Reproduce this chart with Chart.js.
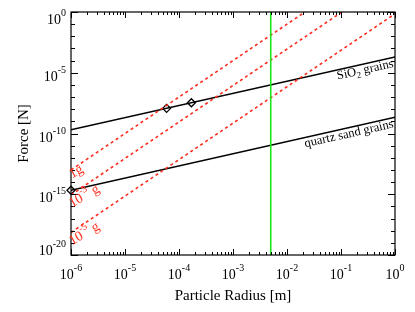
<!DOCTYPE html>
<html><head><meta charset="utf-8">
<script src="https://cdn.jsdelivr.net/npm/chart.js@4/dist/chart.umd.min.js"></script>
<style>html,body{margin:0;padding:0;background:#fff}canvas{display:block}</style>
</head><body>
<canvas id="c" width="415" height="312"></canvas>
<script>
// ---- data ----
const xTickExps = [-6, -5, -4, -3, -2, -1, 0];
const yTickExps = [-20, -15, -10, -5, 0];
const yMinorExps = [-19,-18,-17,-16,-14,-13,-12,-11,-9,-8,-7,-6,-4,-3,-2,-1];
const radiusEnds = [1e-6, 1];
const sio2Force = [10 ** -9.7, 10 ** -3.7];
const quartzForce = [10 ** -14.67, 10 ** -8.67];
const grav1gForce = [10 ** -13.0, 10 ** 5.0];
const grav1e3gForce = [10 ** -15.05, 10 ** 2.95];
const grav1e5gForce = [10 ** -18.15, 10 ** -0.15];
const markerRadius = [10 ** -4.23, 10 ** -3.77, 1e-6];
const markerForce = [10 ** -7.93, 10 ** -7.47, 10 ** -14.67];
const limitRadius = [5e-3, 5e-3];
const limitForce = [1e-20, 1];
const xTitle = 'Particle Radius [m]';
const yTitle = 'Force [N]';

const SERIF = '"Liberation Serif", "DejaVu Serif", serif';
const RED = '#ff2d1e';
const GREEN = '#1ee61e';

function pts(xs, ys) { return xs.map((x, i) => ({ x, y: ys[i] })); }

function drawParts(ctx, parts, x, y, align) {
  let w = 0;
  parts.forEach(p => { ctx.font = p.size + 'px ' + SERIF; p.w = ctx.measureText(p.t).width; w += p.w; });
  let cx = align === 'right' ? x - w : align === 'center' ? x - w / 2 : x;
  ctx.textAlign = 'left';
  ctx.textBaseline = 'alphabetic';
  parts.forEach(p => { ctx.font = p.size + 'px ' + SERIF; ctx.fillText(p.t, cx, y + (p.dy || 0)); cx += p.w; });
}
function pow10(e, base, sup) {
  return [{ t: '10', size: base }, { t: String(e), size: sup, dy: -8 }];
}

const overlay = {
  id: 'overlay',
  afterDraw(chart) {
    const { ctx, chartArea: a, scales: { x, y } } = chart;
    ctx.save();
    ctx.strokeStyle = '#000';
    ctx.fillStyle = '#000';
    ctx.lineWidth = 1.2;
    ctx.strokeRect(a.left, a.top, a.right - a.left, a.bottom - a.top);
    ctx.lineWidth = 1;
    ctx.beginPath();
    xTickExps.forEach((e, i) => {
      const px = Math.round(x.getPixelForValue(10 ** e)) + 0.5;
      ctx.moveTo(px, a.bottom); ctx.lineTo(px, a.bottom - 6);
      ctx.moveTo(px, a.top); ctx.lineTo(px, a.top + 6);
      if (i < xTickExps.length - 1) {
        for (let m = 2; m <= 9; m++) {
          const mx = Math.round(x.getPixelForValue(m * 10 ** e)) + 0.5;
          ctx.moveTo(mx, a.bottom); ctx.lineTo(mx, a.bottom - 3);
          ctx.moveTo(mx, a.top); ctx.lineTo(mx, a.top + 3);
        }
      }
    });
    yTickExps.forEach(e => {
      const py = Math.round(y.getPixelForValue(10 ** e)) + 0.5;
      ctx.moveTo(a.left, py); ctx.lineTo(a.left + 7, py);
      ctx.moveTo(a.right, py); ctx.lineTo(a.right - 7, py);
    });
    yMinorExps.forEach(e => {
      const py = Math.round(y.getPixelForValue(10 ** e)) + 0.5;
      ctx.moveTo(a.left, py); ctx.lineTo(a.left + 4, py);
      ctx.moveTo(a.right, py); ctx.lineTo(a.right - 4, py);
    });
    ctx.stroke();

    xTickExps.forEach(e => {
      const px = x.getPixelForValue(10 ** e);
      drawParts(ctx, pow10(e, 14, 10), px, a.bottom + 24, 'center');
    });
    yTickExps.forEach(e => {
      const py = y.getPixelForValue(10 ** e);
      const base = Math.min(Math.max(py + 8, a.top + 12), a.bottom);
      drawParts(ctx, pow10(e, 14, 10), a.left - 5, base, 'right');
    });

    ctx.font = '15px ' + SERIF;
    ctx.textAlign = 'center';
    ctx.textBaseline = 'alphabetic';
    ctx.fillText(xTitle, (a.left + a.right) / 2, 300);
    ctx.save();
    ctx.translate(28, (a.top + a.bottom) / 2);
    ctx.rotate(-Math.PI / 2);
    ctx.fillText(yTitle, 0, 0);
    ctx.restore();

    function lineLabel(forces, parts, atPx, off) {
      const x1 = x.getPixelForValue(radiusEnds[0]), x2 = x.getPixelForValue(radiusEnds[1]);
      const y1 = y.getPixelForValue(forces[0]), y2 = y.getPixelForValue(forces[1]);
      const ang = Math.atan2(y2 - y1, x2 - x1);
      const ly = y1 + (y2 - y1) * (atPx - x1) / (x2 - x1);
      ctx.save();
      ctx.translate(atPx, ly);
      ctx.rotate(ang);
      drawParts(ctx, parts, 0, off, 'right');
      ctx.restore();
    }
    ctx.fillStyle = '#000';
    lineLabel(sio2Force, [{ t: 'SiO', size: 12.5 }, { t: '2', size: 9, dy: 3 }, { t: ' grains', size: 12.5 }], a.right - 3, 9.5);
    lineLabel(quartzForce, [{ t: 'quartz sand grains', size: 12.5 }], a.right - 3, 9.5);

    ctx.fillStyle = RED;
    function redLabel(parts, logF) {
      const py = y.getPixelForValue(10 ** logF);
      ctx.save();
      ctx.translate(a.left + 1, py);
      ctx.rotate(-30 * Math.PI / 180);
      drawParts(ctx, parts, 0, 0, 'left');
      ctx.restore();
    }
    redLabel([{ t: '1g', size: 14 }], -13.7);
    redLabel([{ t: '10', size: 14 }, { t: '-3', size: 10, dy: -7 }, { t: ' g', size: 14 }], -16.1);
    redLabel([{ t: '10', size: 14 }, { t: '-5', size: 10, dy: -7 }, { t: ' g', size: 14 }], -19.2);
    ctx.restore();
  }
};

const lineDs = (data, color, dash, width) => ({
  data, borderColor: color, borderWidth: width || 1.4, borderDash: dash || [],
  showLine: true, pointRadius: 0, fill: false
});

new Chart(document.getElementById('c'), {
  type: 'scatter',
  data: {
    datasets: [
      lineDs(pts(limitRadius, limitForce), GREEN, [], 1.6),
      lineDs(pts(radiusEnds, grav1gForce), RED, [3, 3], 1.6),
      lineDs(pts(radiusEnds, grav1e3gForce), RED, [3, 3], 1.6),
      lineDs(pts(radiusEnds, grav1e5gForce), RED, [3, 3], 1.6),
      lineDs(pts(radiusEnds, sio2Force), '#000', [], 1.5),
      lineDs(pts(radiusEnds, quartzForce), '#000', [], 1.5),
      {
        data: pts(markerRadius, markerForce), showLine: false,
        pointStyle: 'rectRot', pointRadius: 4, borderColor: '#000', borderWidth: 1.3,
        backgroundColor: '#fff', clip: false
      }
    ]
  },
  options: {
    responsive: false,
    animation: false,
    devicePixelRatio: 1,
    layout: { padding: { left: 0, right: 20, top: 12, bottom: 0 } },
    plugins: { legend: { display: false }, tooltip: { enabled: false } },
    scales: {
      x: {
        type: 'logarithmic', min: 1e-6, max: 1,
        ticks: { display: false }, grid: { display: false }, border: { display: false },
        afterFit(s) { s.height = 57; }
      },
      y: {
        type: 'logarithmic', min: 1e-20, max: 1,
        ticks: { display: false }, grid: { display: false }, border: { display: false },
        afterFit(s) { s.width = 71; }
      }
    }
  },
  plugins: [overlay]
});
</script>
</body></html>
